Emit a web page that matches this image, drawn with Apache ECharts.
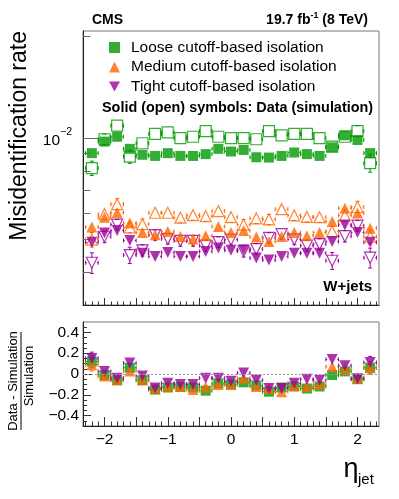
<!DOCTYPE html>
<html>
<head>
<meta charset="utf-8">
<script src="https://cdn.jsdelivr.net/npm/echarts@6/dist/echarts.min.js"></script>
<style>
  html, body { margin: 0; padding: 0; background: #fff; }
  #chart { width: 399px; height: 499px; }
</style>
</head>
<body>
<div id="chart"></div>
<script>
// eta bin centres (bin width 0.2)
const etaBins = [-2.2, -2.0, -1.8, -1.6, -1.4, -1.2, -1.0, -0.8, -0.6, -0.4, -0.2, 0, 0.2, 0.4, 0.6, 0.8, 1.0, 1.2, 1.4, 1.6, 1.8, 2.0, 2.2]

// misidentification rate, data (solid) and simulation (open)
const looseData = [0.00903, 0.00977, 0.0101, 0.0093, 0.00893, 0.00886, 0.00903, 0.00886, 0.00886, 0.00897, 0.0093, 0.00913, 0.00923, 0.00878, 0.00876, 0.00886, 0.00907, 0.00897, 0.00886, 0.0094, 0.0102, 0.00988, 0.00903]
const looseSim = [0.00815, 0.00993, 0.0109, 0.00882, 0.00966, 0.0103, 0.0104, 0.0100, 0.0101, 0.0105, 0.0101, 0.0100, 0.0100, 0.00993, 0.0105, 0.0102, 0.0103, 0.0103, 0.0100, 0.00944, 0.0101, 0.0105, 0.00843]
const looseSimErr = [0.0004, 0.00035, 0.0003, 0.0004, 0.0002, 0.0002, 0.0002, 0.0002, 0.0002, 0.0002, 0.0002, 0.0002, 0.0002, 0.0002, 0.0002, 0.0002, 0.0002, 0.0002, 0.0002, 0.0003, 0.0003, 0.0004, 0.0005]

const mediumData = [0.00545, 0.00583, 0.00602, 0.0056, 0.00525, 0.00517, 0.00529, 0.00511, 0.00502, 0.00514, 0.00547, 0.00525, 0.00532, 0.00509, 0.00494, 0.00511, 0.00525, 0.00514, 0.00525, 0.00566, 0.0062, 0.006, 0.00541]
const mediumSim = [0.0050, 0.00595, 0.00637, 0.00544, 0.00556, 0.00601, 0.00601, 0.00581, 0.00591, 0.00587, 0.00608, 0.00583, 0.00554, 0.00578, 0.00574, 0.00616, 0.0059, 0.00584, 0.00583, 0.00529, 0.0059, 0.00625, 0.0051]
const mediumSimErr = [0.00025, 0.0002, 0.00025, 0.0002, 0.0002, 0.0002, 0.0002, 0.0002, 0.0002, 0.0002, 0.0002, 0.0002, 0.0002, 0.0002, 0.0002, 0.0002, 0.0002, 0.0002, 0.0002, 0.0002, 0.00025, 0.00025, 0.00025]

const tightData = [0.00491, 0.00523, 0.00532, 0.00497, 0.00456, 0.00446, 0.00458, 0.00446, 0.00446, 0.00461, 0.00472, 0.00465, 0.00467, 0.00441, 0.00435, 0.00446, 0.00456, 0.00456, 0.00456, 0.00494, 0.00553, 0.00525, 0.00491]
const tightSim = [0.00427, 0.0051, 0.00554, 0.0045, 0.00465, 0.00516, 0.00503, 0.00496, 0.00496, 0.0048, 0.00492, 0.005, 0.00462, 0.00469, 0.00506, 0.00519, 0.00501, 0.0048, 0.00485, 0.00433, 0.00512, 0.0055, 0.00442]
const tightSimErr = [0.0003, 0.0002, 0.0002, 0.00025, 0.00018, 0.00018, 0.00018, 0.00018, 0.00018, 0.00018, 0.00018, 0.00018, 0.00018, 0.00018, 0.00018, 0.00018, 0.00018, 0.00018, 0.00018, 0.00025, 0.0002, 0.0002, 0.0003]

// (data - simulation) / simulation
const looseRatio = [0.12, -0.01, -0.06, 0.06, -0.06, -0.15, -0.13, -0.125, -0.13, -0.16, -0.09, -0.1, -0.08, -0.11, -0.17, -0.13, -0.12, -0.14, -0.12, -0.01, 0.025, -0.05, 0.06]
const mediumRatio = [0.09, -0.02, -0.055, 0.03, -0.055, -0.14, -0.12, -0.12, -0.15, -0.125, -0.1, -0.1, -0.04, -0.12, -0.14, -0.17, -0.11, -0.12, -0.1, 0.07, 0.045, -0.04, 0.06]
const tightRatio = [0.15, 0.025, -0.04, 0.105, -0.02, -0.135, -0.09, -0.1, -0.1, -0.04, -0.04, -0.07, 0.01, -0.06, -0.14, -0.14, -0.09, -0.05, -0.06, 0.14, 0.08, -0.045, 0.11]
const ratioErr = [0.06, 0.04, 0.04, 0.045, 0.04, 0.035, 0.035, 0.035, 0.035, 0.035, 0.035, 0.035, 0.035, 0.035, 0.035, 0.035, 0.035, 0.035, 0.035, 0.045, 0.04, 0.04, 0.06]

// axis ticks and labels
const etaLabels = [-2, -1, 0, 1, 2]
const etaMajorTicks = [-2, -1.5, -1, -0.5, 0, 0.5, 1, 1.5, 2]
const rateLabels = [0.01]
const rateMinorTicks = [0.004, 0.005, 0.006, 0.007, 0.008, 0.009, 0.02]
const ratioLabels = [-0.4, -0.2, 0, 0.2, 0.4]

const etaMinorTicks = []
for (let k = -23; k <= 23; k++) etaMinorTicks.push(k / 10)
const ratioMinorTicks = []
for (let k = -9; k <= 9; k++) ratioMinorTicks.push(k / 20)

const FONT = 'Liberation Sans, Arial, Helvetica, sans-serif'
const GREEN = '#009900'
const ORANGE = '#ff6600'
const PURPLE = '#990099'
const ETA_MIN = -2.34
const ETA_MAX = 2.34
const HALF_BIN = (etaBins[1] - etaBins[0]) / 2

const minusSign = (v) => (v < 0 ? '\u2212' + Math.abs(v) : String(v))

const points = (vals, errs) => etaBins.map((x, i) => [x, vals[i], errs ? errs[i] : 0])

// horizontal bin bar + vertical error bar with end caps, gap left for the marker
const errorRenderer = (gap) => (params, api) => {
  const x = api.value(0)
  const y = api.value(1)
  const e = api.value(2)
  const c = api.coord([x, y])
  const l = api.coord([x - HALF_BIN, y])
  const r = api.coord([x + HALF_BIN, y])
  const style = { stroke: api.visual('color'), lineWidth: 1 }
  const cap = 2
  const kids = [
    { type: 'line', shape: { x1: l[0], y1: c[1], x2: c[0] - gap, y2: c[1] }, style },
    { type: 'line', shape: { x1: c[0] + gap, y1: c[1], x2: r[0], y2: c[1] }, style },
    { type: 'line', shape: { x1: l[0], y1: c[1] - cap, x2: l[0], y2: c[1] + cap }, style },
    { type: 'line', shape: { x1: r[0], y1: c[1] - cap, x2: r[0], y2: c[1] + cap }, style },
  ]
  if (e > 0) {
    const t = api.coord([x, y + e])
    const b = api.coord([x, y - e])
    if (t[1] < c[1] - gap) {
      kids.push({ type: 'line', shape: { x1: c[0], y1: t[1], x2: c[0], y2: c[1] - gap }, style })
      kids.push({ type: 'line', shape: { x1: c[0] - cap, y1: t[1], x2: c[0] + cap, y2: t[1] }, style })
    }
    if (b[1] > c[1] + gap) {
      kids.push({ type: 'line', shape: { x1: c[0], y1: c[1] + gap, x2: c[0], y2: b[1] }, style })
      kids.push({ type: 'line', shape: { x1: c[0] - cap, y1: b[1], x2: c[0] + cap, y2: b[1] }, style })
    }
  }
  return { type: 'group', children: kids }
}

const errSeries = (name, grid, vals, errs, color) => ({
  name,
  type: 'custom',
  xAxisIndex: grid * 2,
  yAxisIndex: grid * 2,
  data: points(vals, errs),
  encode: { x: 0, y: 1 },
  itemStyle: { color },
  renderItem: errorRenderer(5),
  silent: true,
})

const markerSeries = (name, grid, vals, color, symbol, rotate, open) => ({
  name,
  type: 'scatter',
  xAxisIndex: grid * 2,
  yAxisIndex: grid * 2,
  data: points(vals),
  symbol,
  symbolRotate: rotate,
  symbolSize: symbol === 'rect' ? (open ? 11 : 10) : 11,
  itemStyle: open
    ? { color: 'rgba(0,0,0,0)', borderColor: color, borderWidth: 1.2 }
    : { color },
  emphasis: { disabled: true },
  silent: true,
})

const xAxisPair = (grid, withLabels) => [
  {
    gridIndex: grid, type: 'value', position: 'bottom', min: ETA_MIN, max: ETA_MAX,
    axisLine: { show: true, onZero: false, lineStyle: { color: '#222', width: 1 } },
    axisTick: { show: true, inside: true, length: grid ? 9 : 7, customValues: etaMajorTicks, lineStyle: { color: '#333' } },
    axisLabel: {
      show: withLabels, customValues: etaLabels, margin: 6,
      fontFamily: FONT, fontSize: 15.5, color: '#000', formatter: minusSign,
    },
    splitLine: { show: false },
  },
  {
    gridIndex: grid, type: 'value', position: 'bottom', min: ETA_MIN, max: ETA_MAX,
    axisLine: { show: false, onZero: false },
    axisTick: { show: true, inside: true, length: grid ? 4.5 : 3.5, customValues: etaMinorTicks, lineStyle: { color: '#333' } },
    axisLabel: { show: false },
    splitLine: { show: false },
  },
]

const chart = echarts.init(document.getElementById('chart'), null, { renderer: 'canvas' })

chart.setOption({
  animation: false,
  backgroundColor: '#fff',
  textStyle: { fontFamily: FONT },
  grid: [
    { left: 83, top: 31, width: 296, height: 274, show: true, borderColor: '#777', borderWidth: 1, outerBoundsMode: 'none', containLabel: false },
    { left: 83, top: 322, width: 296, height: 104, show: true, borderColor: '#777', borderWidth: 1, outerBoundsMode: 'none', containLabel: false },
  ],
  xAxis: [...xAxisPair(0, false), ...xAxisPair(1, true)],
  yAxis: [
    {
      gridIndex: 0, type: 'log', logBase: 10, position: 'left', min: 0.0032, max: 0.0208,
      axisLine: { show: true, onZero: false, lineStyle: { color: '#222' } },
      axisTick: { show: true, inside: true, length: 15, customValues: rateLabels, lineStyle: { color: '#666' } },
      axisLabel: {
        customValues: rateLabels, margin: 11,
        formatter: () => '{b|10}{s|\u22122}',
        rich: {
          b: { fontFamily: FONT, fontSize: 15.5, color: '#000', lineHeight: 24, padding: [6, 0, 0, 0] },
          s: { fontFamily: FONT, fontSize: 10.5, color: '#000', lineHeight: 12, verticalAlign: 'top' },
        },
      },
      splitLine: { show: false },
    },
    {
      gridIndex: 0, type: 'log', logBase: 10, position: 'left', min: 0.0032, max: 0.0208,
      axisLine: { show: false, onZero: false },
      axisTick: { show: true, inside: true, length: 7.5, customValues: rateMinorTicks, lineStyle: { color: '#666' } },
      axisLabel: { show: false },
      splitLine: { show: false },
    },
    {
      gridIndex: 1, type: 'value', position: 'left', min: -0.5, max: 0.5,
      axisLine: { show: true, onZero: false, lineStyle: { color: '#222' } },
      axisTick: { show: true, inside: true, length: 8, customValues: ratioLabels, lineStyle: { color: '#333' } },
      axisLabel: {
        customValues: ratioLabels, margin: 4,
        fontFamily: FONT, fontSize: 15.5, color: '#000', formatter: minusSign,
      },
      splitLine: { show: false },
    },
    {
      gridIndex: 1, type: 'value', position: 'left', min: -0.5, max: 0.5,
      axisLine: { show: false, onZero: false },
      axisTick: { show: true, inside: true, length: 4, customValues: ratioMinorTicks, lineStyle: { color: '#333' } },
      axisLabel: { show: false },
      splitLine: { show: false },
    },
  ],
  legend: {
    left: 104, top: 34, orient: 'vertical',
    itemWidth: 11, itemHeight: 11, itemGap: 2.5,
    symbolRotate: 0,
    selectedMode: false,
    textStyle: { fontFamily: FONT, fontSize: 15.5, color: '#000', lineHeight: 17, padding: [0, 0, 0, 6] },
    data: [
      { name: 'Loose cutoff-based isolation', icon: 'rect' },
      { name: 'Medium cutoff-based isolation', icon: 'triangle' },
      { name: 'Tight cutoff-based isolation', icon: 'path://M0,0L10,0L5,9Z' },
    ],
  },
  series: [
    // simulation (open)
    errSeries('loose sim err', 0, looseSim, looseSimErr, GREEN),
    markerSeries('loose sim', 0, looseSim, GREEN, 'rect', 0, true),
    errSeries('medium sim err', 0, mediumSim, mediumSimErr, ORANGE),
    markerSeries('medium sim', 0, mediumSim, ORANGE, 'triangle', 0, true),
    errSeries('tight sim err', 0, tightSim, tightSimErr, PURPLE),
    markerSeries('tight sim', 0, tightSim, PURPLE, 'triangle', 180, true),
    // data (solid)
    errSeries('loose data err', 0, looseData, null, GREEN),
    markerSeries('Loose cutoff-based isolation', 0, looseData, GREEN, 'rect', 0, false),
    errSeries('medium data err', 0, mediumData, null, ORANGE),
    markerSeries('Medium cutoff-based isolation', 0, mediumData, ORANGE, 'triangle', 0, false),
    errSeries('tight data err', 0, tightData, null, PURPLE),
    markerSeries('Tight cutoff-based isolation', 0, tightData, PURPLE, 'triangle', 180, false),
    // ratio panel
    {
      ...errSeries('loose ratio err', 1, looseRatio, ratioErr, GREEN),
      markLine: {
        silent: true, symbol: 'none', label: { show: false },
        lineStyle: { color: '#999', type: [2, 2], width: 1 },
        data: [{ yAxis: 0 }],
      },
    },
    markerSeries('loose ratio', 1, looseRatio, GREEN, 'rect', 0, false),
    errSeries('medium ratio err', 1, mediumRatio, ratioErr, ORANGE),
    markerSeries('medium ratio', 1, mediumRatio, ORANGE, 'triangle', 0, false),
    errSeries('tight ratio err', 1, tightRatio, ratioErr, PURPLE),
    markerSeries('tight ratio', 1, tightRatio, PURPLE, 'triangle', 180, false),
  ],
  graphic: [
    { type: 'text', x: 92, y: 20, style: { text: 'CMS', fontFamily: FONT, fontWeight: 'bold', fontSize: 14, fill: '#000', verticalAlign: 'middle' } },
    {
      type: 'text', x: 368, y: 20,
      style: {
        text: '{a|19.7 fb}{s|-1}{a| (8 TeV)}', align: 'right', verticalAlign: 'middle',
        rich: {
          a: { fontFamily: FONT, fontWeight: 'bold', fontSize: 14, fill: '#000', lineHeight: 18 },
          s: { fontFamily: FONT, fontWeight: 'bold', fontSize: 9, fill: '#000', lineHeight: 10, verticalAlign: 'top' },
        },
      },
    },
    { type: 'text', x: 102, y: 108, style: { text: 'Solid (open) symbols: Data (simulation)', fontFamily: FONT, fontWeight: 'bold', fontSize: 14.4, fill: '#000', verticalAlign: 'middle' } },
    { type: 'text', x: 372, y: 287, style: { text: 'W+jets', fontFamily: FONT, fontWeight: 'bold', fontSize: 15, fill: '#000', align: 'right', verticalAlign: 'middle' } },
    { type: 'text', x: 20, y: 31, rotation: Math.PI / 2, style: { text: 'Misidentification rate', fontFamily: FONT, fontSize: 23, fill: '#000', align: 'right', verticalAlign: 'middle' } },
    { type: 'text', x: 13, y: 381, rotation: Math.PI / 2, style: { text: 'Data - Simulation', fontFamily: FONT, fontSize: 13, fill: '#000', align: 'center', verticalAlign: 'middle' } },
    { type: 'line', shape: { x1: 21, y1: 332, x2: 21, y2: 430 }, style: { stroke: '#000', lineWidth: 1 } },
    { type: 'text', x: 29, y: 376, rotation: Math.PI / 2, style: { text: 'Simulation', fontFamily: FONT, fontSize: 13, fill: '#000', align: 'center', verticalAlign: 'middle' } },
    { type: 'text', x: 351, y: 470, style: { text: '\u03b7', fontFamily: FONT, fontSize: 27, fill: '#000', align: 'center', verticalAlign: 'middle' } },
    { type: 'text', x: 358, y: 480, style: { text: 'jet', fontFamily: FONT, fontSize: 15, fill: '#000', verticalAlign: 'middle' } },
  ],
})
</script>
</body>
</html>
